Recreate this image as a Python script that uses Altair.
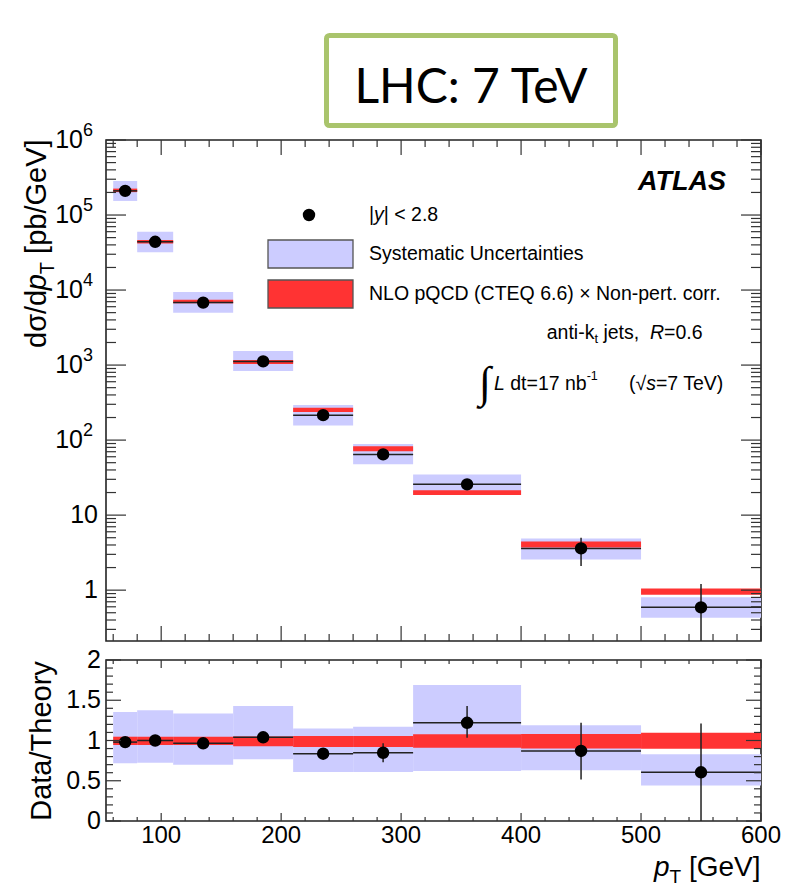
import altair as alt
import pandas as pd

# ---------------- data ----------------
bin_lo = [60, 80, 110, 160, 210, 260, 310, 400, 500]
bin_hi = [80, 110, 160, 210, 260, 310, 400, 500, 600]
pt_center = [70, 95, 135, 185, 235, 285, 355, 450, 550]

xsec = [2.1e5, 4.4e4, 6.8e3, 1.12e3, 215, 64.5, 25.7, 3.6, 0.59]
xsec_err_lo = [2.05e5, 4.3e4, 6.65e3, 1.09e3, 207, 61, 23.5, 2.1, 0.21]
xsec_err_hi = [2.15e5, 4.5e4, 6.95e3, 1.15e3, 224, 68, 28, 5.0, 1.21]
sys_lo = [1.54e5, 3.2e4, 4.98e3, 832, 157, 47.5, 18.5, 2.56, 0.43]
sys_hi = [2.84e5, 6.0e4, 9.4e3, 1.54e3, 293, 89, 34.9, 4.89, 0.807]
theory_lo = [2.02e5, 4.18e4, 6.65e3, 1.03e3, 236, 71, 18.5, 3.7, 0.87]
theory_hi = [2.25e5, 4.65e4, 7.45e3, 1.17e3, 270, 83, 21.5, 4.45, 1.05]

ratio = [0.98, 1.0, 0.965, 1.04, 0.836, 0.848, 1.22, 0.87, 0.605]
ratio_err_lo = [0.965, 0.99, 0.955, 1.025, 0.815, 0.73, 1.035, 0.515, 0.0]
ratio_err_hi = [0.995, 1.01, 0.975, 1.055, 0.86, 0.965, 1.43, 1.22, 1.21]
ratio_sys_lo = [0.717, 0.724, 0.70, 0.766, 0.61, 0.61, 0.62, 0.63, 0.44]
ratio_sys_hi = [1.354, 1.375, 1.336, 1.43, 1.15, 1.17, 1.69, 1.19, 0.83]
band_lo = [0.944, 0.944, 0.944, 0.93, 0.919, 0.919, 0.91, 0.90, 0.898]
band_hi = [1.047, 1.047, 1.047, 1.05, 1.056, 1.056, 1.077, 1.08, 1.097]

# axis ticks / labels
x_major = [100, 200, 300, 400, 500, 600]
x_major_lab = ["100", "200", "300", "400", "500", "600"]
x_minor = [60, 80, 120, 140, 160, 180, 220, 240, 260, 280, 320, 340, 360, 380,
           420, 440, 460, 480, 520, 540, 560, 580]
y_major = [1, 10, 100, 1e3, 1e4, 1e5, 1e6]
y_base_lab = ["1", "10", "10", "10", "10", "10", "10"]
y_exp_lab = ["", "", "2", "3", "4", "5", "6"]
y_minor = [m * 10.0 ** k for k in range(-1, 6) for m in range(2, 10)
           if 0.21 <= m * 10.0 ** k <= 1e6]
r_major = [0, 0.5, 1, 1.5, 2]
r_major_lab = ["0", "0.5", "1", "1.5", "2"]
r_minor = [0.1, 0.2, 0.3, 0.4, 0.6, 0.7, 0.8, 0.9, 1.1, 1.2, 1.3, 1.4,
           1.6, 1.7, 1.8, 1.9]

# ---------------- styling ----------------
W, H1, H2 = 655, 501, 161
XS = alt.Scale(domain=[54, 600], nice=False, zero=False)
YS = alt.Scale(type="log", domain=[0.21, 1e6], nice=False)
RS = alt.Scale(domain=[0, 2], nice=False, zero=False)
FONT = "Liberation Sans"
BLUE = "#ccccff"
RED = "#ff3333"
LINE = "#222222"
TICK = "#333333"

W_TAB = {' ': .278, '(': .333, ')': .333, ',': .278, '-': .333, '.': .278, '/': .278,
         '=': .584, '<': .584, '×': .584, '|': .26, '[': .278, ']': .278, '√': .549,
         'σ': .6, 'a': .556, 'b': .556, 'c': .5, 'd': .556, 'e': .556, 'g': .556,
         'h': .556, 'i': .222, 'j': .222, 'k': .5, 'l': .222, 'm': .833, 'n': .556,
         'o': .556, 'p': .556, 'r': .333, 's': .5, 't': .278, 'u': .556, 'v': .5,
         'y': .5, 'A': .667, 'C': .722, 'D': .722, 'E': .667, 'G': .778, 'L': .556,
         'N': .722, 'O': .778, 'Q': .778, 'R': .722, 'S': .667, 'T': .611, 'U': .722,
         'V': .667}


def tw(s, size):
    return sum(W_TAB.get(c, 0.556) for c in s) * size


def txt(s, x, y, size=19.5, align="left", baseline="alphabetic", style="normal",
        weight="normal", angle=None, font=FONT, color="black"):
    kw = dict(align=align, baseline=baseline, font=font, fontSize=size,
              fontStyle=style, fontWeight=weight, color=color)
    if angle is not None:
        kw["angle"] = angle
    return alt.Chart(pd.DataFrame({"t": [s]})).mark_text(**kw).encode(
        x=alt.value(x), y=alt.value(y), text="t:N")


def hseq(pieces, x0, y0, baseline="alphabetic"):
    out, x = [], x0
    for s, size, style, dy in pieces:
        lead = len(s) - len(s.lstrip())
        out.append(txt(s.strip(), x + lead * 0.278 * size, y0 + dy, size=size,
                       style=style, baseline=baseline))
        x += tw(s, size)
    return out


def vseq(pieces, x0, y0):
    out, y = [], y0
    for s, size, style, dx in pieces:
        lead = len(s) - len(s.lstrip())
        out.append(txt(s.strip(), x0 + dx, y - lead * 0.278 * size, size=size,
                       style=style, angle=270))
        y -= tw(s, size)
    return out


def xticks(vals, length, H):
    d = pd.DataFrame({"v": vals})
    b = alt.Chart(d).mark_rule(color=TICK, strokeWidth=1.2).encode(
        x=alt.X("v:Q", scale=XS, axis=None), y=alt.value(H), y2=alt.value(H - length))
    t = alt.Chart(d).mark_rule(color=TICK, strokeWidth=1.2).encode(
        x=alt.X("v:Q", scale=XS, axis=None), y=alt.value(0), y2=alt.value(length))
    return [b, t]


def yticks(vals, length, scale):
    d = pd.DataFrame({"v": vals})
    l = alt.Chart(d).mark_rule(color=TICK, strokeWidth=1.2).encode(
        y=alt.Y("v:Q", scale=scale, axis=None), x=alt.value(0), x2=alt.value(length))
    r = alt.Chart(d).mark_rule(color=TICK, strokeWidth=1.2).encode(
        y=alt.Y("v:Q", scale=scale, axis=None), x=alt.value(W), x2=alt.value(W - length))
    return [l, r]


df = pd.DataFrame(dict(lo=bin_lo, hi=bin_hi, c=pt_center, xs=xsec, xs_lo=xsec_err_lo,
                       xs_hi=xsec_err_hi, s_lo=sys_lo, s_hi=sys_hi, t_lo=theory_lo,
                       t_hi=theory_hi, r=ratio, r_lo=ratio_err_lo, r_hi=ratio_err_hi,
                       rs_lo=ratio_sys_lo, rs_hi=ratio_sys_hi, b_lo=band_lo, b_hi=band_hi))
base = alt.Chart(df)

X_LO = alt.X("lo:Q", scale=XS, axis=None)
X_C = alt.X("c:Q", scale=XS, axis=None)

# ---------------- main panel ----------------
anchor = alt.Chart(pd.DataFrame({"a": [0]})).mark_rect(opacity=0).encode(
    x=alt.value(-97), x2=alt.value(-96), y=alt.value(-131), y2=alt.value(-130))

title_box = alt.Chart(pd.DataFrame({"a": [0]})).mark_rect(
    fill="white", stroke="#a9c46c", strokeWidth=5, cornerRadius=3).encode(
    x=alt.value(220.5), x2=alt.value(509.5), y=alt.value(-104.5), y2=alt.value(-14.5))
title_txt = txt("LHC: 7 TeV", 365, -37, size=48, align="center", font="Lato")

m_sys = base.mark_rect(color=BLUE, opacity=1).encode(
    x=X_LO, x2="hi:Q", y=alt.Y("s_lo:Q", scale=YS, axis=None), y2="s_hi:Q")
m_th = base.mark_rect(color=RED, opacity=1).encode(
    x=X_LO, x2="hi:Q", y=alt.Y("t_lo:Q", scale=YS, axis=None), y2="t_hi:Q")
m_xerr = base.mark_rule(color=LINE, strokeWidth=1.5).encode(
    x=X_LO, x2="hi:Q", y=alt.Y("xs:Q", scale=YS, axis=None))
m_yerr = base.mark_rule(color=LINE, strokeWidth=1.5).encode(
    x=X_C, y=alt.Y("xs_lo:Q", scale=YS, axis=None), y2="xs_hi:Q")
m_pts = base.mark_circle(size=154, color="black", opacity=1).encode(
    x=X_C, y=alt.Y("xs:Q", scale=YS, axis=None))

# y tick labels with superscript exponents
lab_df = pd.DataFrame({"v": y_major, "b": y_base_lab, "e": y_exp_lab})
lab_plain = alt.Chart(lab_df).transform_filter("datum.e == ''").mark_text(
    align="right", baseline="middle", font=FONT, fontSize=25, color="black").encode(
    x=alt.value(-8), y=alt.Y("v:Q", scale=YS, axis=None), text="b:N")
lab_base = alt.Chart(lab_df).transform_filter("datum.e != ''").mark_text(
    align="right", baseline="middle", font=FONT, fontSize=25, color="black").encode(
    x=alt.value(-23), y=alt.Y("v:Q", scale=YS, axis=None), text="b:N")
lab_exp = alt.Chart(lab_df).transform_filter("datum.e != ''").mark_text(
    align="left", baseline="middle", font=FONT, fontSize=18, color="black", dy=-9).encode(
    x=alt.value(-23), y=alt.Y("v:Q", scale=YS, axis=None), text="e:N")

# legend
leg_dot = alt.Chart(pd.DataFrame({"a": [0]})).mark_circle(
    size=154, color="black", opacity=1).encode(x=alt.value(203), y=alt.value(75))
leg_blue = alt.Chart(pd.DataFrame({"a": [0]})).mark_rect(
    fill=BLUE, stroke="#555555", strokeWidth=1.3).encode(
    x=alt.value(162), x2=alt.value(247), y=alt.value(100), y2=alt.value(128))
leg_red = alt.Chart(pd.DataFrame({"a": [0]})).mark_rect(
    fill=RED, stroke="#555555", strokeWidth=1.3).encode(
    x=alt.value(162), x2=alt.value(247), y=alt.value(140), y2=alt.value(168))

texts = []
texts += hseq([("|", 19.5, "normal", 0), ("y", 19.5, "italic", 0),
               ("| < 2.8", 19.5, "normal", 0)], 263, 75, baseline="middle")
texts.append(txt("Systematic Uncertainties", 263, 114, baseline="middle"))
texts.append(txt("NLO pQCD (CTEQ 6.6) × Non-pert. corr.", 263, 154, baseline="middle"))
texts += hseq([("anti-k", 19.5, "normal", 0), ("t", 13, "normal", 6),
               (" jets,", 19.5, "normal", 0), ("  R", 19.5, "italic", 0),
               ("=0.6", 19.5, "normal", 0)], 440.7, 193, baseline="middle")
texts.append(txt("∫", 385, 244, size=44, align="right", baseline="middle",
                 font="Liberation Serif"))
texts += hseq([("L", 19.5, "italic", 0), (" dt=17 nb", 19.5, "normal", 0),
               ("-1", 12.5, "normal", -8)], 388, 244, baseline="middle")
texts += hseq([("(", 19.5, "normal", 0), ("√", 19.5, "normal", 0),
               ("s", 19.5, "italic", 0), ("=7 TeV)", 19.5, "normal", 0)],
              523, 244, baseline="middle")
texts.append(txt("ATLAS", 620, 50, size=27, align="right", style="italic", weight="bold"))
texts += vseq([("dσ/d", 29, "normal", 0), ("p", 29, "italic", 0),
               ("T", 20, "normal", 8), (" [pb/GeV]", 29, "normal", 0)], -60, 208)

main_layers = ([anchor, title_box, title_txt, m_sys, m_th, m_xerr, m_yerr, m_pts,
                leg_dot, leg_blue, leg_red] + texts +
               xticks(x_major, 15, H1) + xticks(x_minor, 7, H1) +
               yticks(y_major, 20, YS) + yticks(y_minor, 10, YS) +
               [lab_plain, lab_base, lab_exp])
main = alt.layer(*main_layers).properties(width=W, height=H1)

# ---------------- ratio panel ----------------
r_sys = base.mark_rect(color=BLUE, opacity=1).encode(
    x=X_LO, x2="hi:Q", y=alt.Y("rs_lo:Q", scale=RS, axis=None), y2="rs_hi:Q")
r_band = base.mark_rect(color=RED, opacity=1).encode(
    x=X_LO, x2="hi:Q", y=alt.Y("b_lo:Q", scale=RS, axis=None), y2="b_hi:Q")
r_xerr = base.mark_rule(color=LINE, strokeWidth=1.5).encode(
    x=X_LO, x2="hi:Q", y=alt.Y("r:Q", scale=RS, axis=None))
r_yerr = base.mark_rule(color=LINE, strokeWidth=1.5).encode(
    x=X_C, y=alt.Y("r_lo:Q", scale=RS, axis=None), y2="r_hi:Q")
r_pts = base.mark_circle(size=154, color="black", opacity=1).encode(
    x=X_C, y=alt.Y("r:Q", scale=RS, axis=None))

xlab = alt.Chart(pd.DataFrame({"v": x_major, "t": x_major_lab})).mark_text(
    align="center", baseline="top", font=FONT, fontSize=24, color="black").encode(
    x=alt.X("v:Q", scale=XS, axis=None), y=alt.value(H2 + 3), text="t:N")
rlab = alt.Chart(pd.DataFrame({"v": r_major, "t": r_major_lab})).mark_text(
    align="right", baseline="middle", font=FONT, fontSize=25, color="black").encode(
    y=alt.Y("v:Q", scale=RS, axis=None), x=alt.value(-5), text="t:N")

r_texts = [txt("Data/Theory", -55, 81, size=29, align="center", angle=270)]
r_texts += hseq([("p", 28, "italic", 0), ("T", 19, "normal", 7),
                 (" [GeV]", 28, "normal", 0)], 548, 216)

lower_layers = ([r_sys, r_band, r_xerr, r_yerr, r_pts] + r_texts +
                xticks(x_major, 8, H2) + xticks(x_minor, 4, H2) +
                yticks(r_major, 15, RS) + yticks(r_minor, 7, RS) + [xlab, rlab])
lower = alt.layer(*lower_layers).properties(width=W, height=H2)

chart = alt.vconcat(main, lower, spacing=19, bounds="flush").properties(
    padding=0, background="white"
).configure_view(stroke=LINE, strokeWidth=1.6)

chart.save("out.html", embed_options={"renderer": "svg", "actions": False})
